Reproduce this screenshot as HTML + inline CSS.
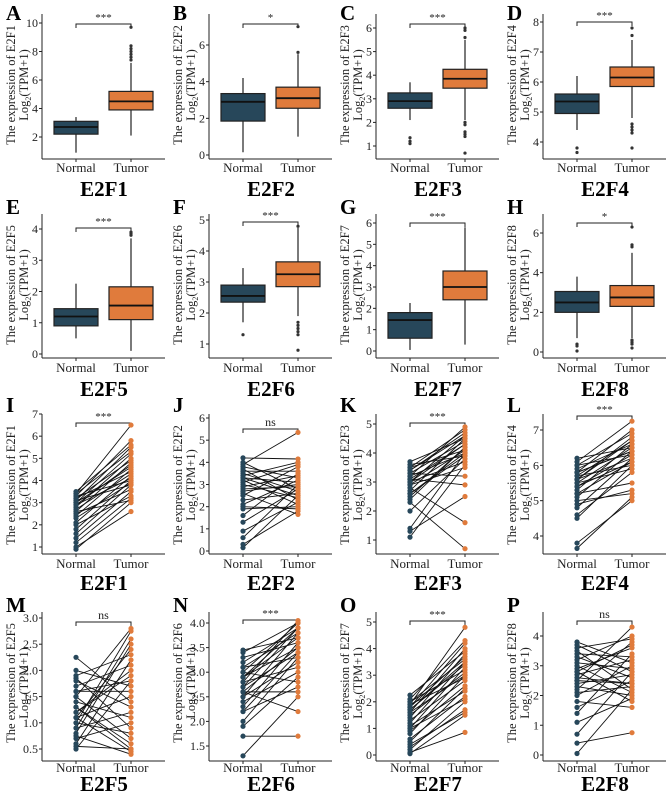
<!DOCTYPE html>
<html><head><meta charset="utf-8">
<style>html,body{margin:0;padding:0;background:#fff}svg{display:block}</style>
</head><body>
<svg id="fig" width="669" height="798" viewBox="0 0 669 798" xmlns="http://www.w3.org/2000/svg" font-family="'Liberation Serif', serif"></svg>
<script>
const panelLetters = ['A','B','C','D','E','F','G','H','I','J','K','L','M','N','O','P'];
const genes = ['E2F1','E2F2','E2F3','E2F4','E2F5','E2F6','E2F7','E2F8'];
const sigLabels = ['***','*','***','***','***','***','***','*','***','ns','***','***','ns','***','***','ns'];
const tickValues = [[2,4,6,8,10],[0,2,4,6],[1,2,3,4,5,6],[4,5,6,7,8],[0,1,2,3,4],[1,2,3,4,5],[0,1,2,3,4,5,6],[0,2,4,6],
 [1,2,3,4,5,6,7],[0,1,2,3,4,5,6],[1,2,3,4,5],[4,5,6,7],[0.5,1.0,1.5,2.0,2.5,3.0],[1.5,2.0,2.5,3.0,3.5,4.0],[0,1,2,3,4,5],[0,1,2,3,4]];
const tickLabels = [null,null,null,null,null,null,null,null,null,null,null,null,['0.5','1.0','1.5','2.0','2.5','3.0'],['1.5','2.0','2.5','3.0','3.5','4.0'],null,null];
// box stats: [low whisker, q1, median, q3, high whisker]
const normalStats = [[0.9,2.2,2.7,3.1,3.4],[0.15,1.85,2.9,3.35,4.2],[2.1,2.6,2.9,3.25,3.7],[4.4,4.95,5.35,5.6,6.2],[0.5,0.9,1.2,1.45,2.25],[1.7,2.35,2.55,2.9,3.45],[0.05,0.6,1.45,1.8,2.25],[0.7,2.0,2.5,3.05,3.8]];
const tumorStats = [[2.1,3.9,4.5,5.2,7.2],[1.0,2.55,3.1,3.7,5.5],[2.1,3.45,3.85,4.25,5.5],[4.8,5.85,6.15,6.5,7.4],[0.1,1.1,1.55,2.15,3.7],[1.9,2.85,3.25,3.65,4.75],[0.3,2.4,3.0,3.75,5.8],[0.7,2.3,2.75,3.35,5.0]];
const normalOutliers = [[],[],[1.35,1.2,1.1],[3.8,3.65],[],[1.3],[],[0.4,0.3,0.05]];
const tumorOutliers = [[7.4,7.6,7.8,8.0,8.2,8.4,9.7],[5.6,7.0],[5.6,5.9,6.0,2.0,1.9,1.6,1.5,1.4,0.7],[7.55,7.8,4.6,4.5,4.4,4.3,3.8],[3.8,3.85,3.9],[4.8,1.7,1.6,1.5,1.4,1.3,0.8],[],[5.3,5.4,6.3,0.6,0.5,0.4,0.2]];
const pairedNormal = [
[0.9,1.0,1.2,1.4,1.6,1.8,2.0,2.1,2.3,2.4,2.5,2.6,2.7,2.8,2.9,3.0,3.0,3.1,3.1,3.2,3.2,3.3,3.3,3.4,3.4,3.5,2.9,2.6],
[0.15,0.3,0.6,0.9,1.3,1.6,1.9,2.1,2.3,2.5,2.6,2.8,2.9,3.0,3.1,3.2,3.3,3.4,3.5,3.6,3.7,3.8,3.9,4.0,4.2,2.0,2.7,3.3],
[1.1,1.3,1.4,2.0,2.3,2.5,2.6,2.7,2.8,2.9,3.0,3.0,3.1,3.1,3.2,3.2,3.3,3.3,3.4,3.5,3.5,3.6,3.7,2.4,2.9,3.0,3.4,2.6],
[3.65,3.8,4.5,4.6,4.8,5.0,5.1,5.2,5.3,5.4,5.5,5.5,5.6,5.6,5.7,5.7,5.8,5.8,5.9,6.0,6.0,6.1,6.2,5.2,5.4,4.9,5.6,5.8],
[0.5,0.55,0.6,0.7,0.75,0.8,0.9,1.0,1.0,1.1,1.1,1.2,1.2,1.3,1.4,1.5,1.5,1.6,1.7,1.8,1.85,1.9,2.0,2.25,0.9,1.3,1.6,1.1],
[1.3,1.7,1.9,2.0,2.2,2.3,2.4,2.5,2.5,2.6,2.6,2.7,2.7,2.8,2.8,2.9,2.9,3.0,3.0,3.1,3.1,3.2,3.3,3.4,3.45,2.6,2.9,2.2],
[0.05,0.1,0.2,0.3,0.5,0.6,0.8,0.9,1.0,1.1,1.2,1.3,1.4,1.5,1.6,1.7,1.8,1.8,1.9,1.9,2.0,2.0,2.1,2.25,1.6,1.0,0.4,1.7],
[0.05,0.4,0.7,1.1,1.4,1.6,1.8,2.0,2.1,2.2,2.3,2.4,2.5,2.6,2.7,2.8,2.9,3.0,3.1,3.2,3.3,3.4,3.5,3.6,3.7,3.8,2.5,2.8]];
const pairedTumor = [
[3.0,2.6,3.2,3.5,3.8,4.0,3.3,4.2,3.9,4.5,3.6,4.8,4.3,5.0,4.1,4.6,5.2,3.8,5.5,4.4,4.9,5.8,4.0,6.5,5.3,5.6,4.7,3.1],
[2.5,1.8,3.0,2.2,2.8,3.5,2.0,3.2,2.6,3.8,1.65,2.9,3.4,2.4,3.9,2.1,3.1,4.0,2.7,3.6,2.3,3.3,5.35,2.8,4.15,1.9,3.0,2.5],
[3.6,2.5,4.0,3.8,0.7,4.2,3.9,4.5,1.6,4.1,4.6,3.7,4.3,2.9,4.9,4.0,4.4,3.2,4.7,4.1,4.8,3.9,4.5,4.2,3.5,4.3,4.6,4.0],
[5.1,5.0,6.0,5.8,6.2,5.2,6.4,6.1,6.6,6.3,5.9,6.5,6.8,6.2,6.7,6.0,6.4,7.0,6.6,6.3,6.9,7.25,6.5,5.5,6.1,5.3,6.7,6.4],
[1.8,0.5,2.2,1.0,0.4,2.5,1.2,0.8,2.75,1.5,0.45,1.9,2.0,0.6,1.1,2.8,0.7,1.6,2.1,1.3,0.9,2.3,1.7,1.4,2.6,0.5,1.8,2.4],
[2.5,1.7,2.9,3.3,2.7,3.6,3.0,3.8,3.2,3.5,2.6,3.9,3.4,4.05,3.1,3.7,3.5,4.0,2.8,3.8,3.3,3.9,3.6,4.0,3.7,2.2,3.9,3.4],
[1.5,0.85,2.0,1.7,2.5,2.2,3.0,2.6,3.3,2.4,3.5,2.8,3.8,3.1,4.0,3.4,3.7,4.2,2.9,4.8,3.6,3.2,4.3,3.9,3.0,2.1,1.6,3.5],
[2.2,0.75,2.8,1.9,3.4,2.5,1.6,3.0,2.3,3.8,2.0,2.7,4.3,2.4,3.2,1.8,3.6,2.1,2.9,4.0,2.6,3.3,2.2,3.9,2.8,3.1,2.4,3.7]];

// layout (not data)
const rowTop=[0,200,400,598];
const rowGeom=[{bot:159,lab:172,gene:196},{bot:158,lab:172,gene:196},{bot:154,lab:168,gene:190},{bot:163,lab:174,gene:193}];
const tickPx=[[23,137],[45,155],[28,146],[22,142],[29,154],[20,144],[23,151],[33,152],[14,147],[18,151],[24,140],[30,136],[20,151],[25,148],[24,157],[38,157]];
const bracketPx=[24,24,24,22,28,22,23,23,23,29,23,16,24,22,23,23];
const colX=[0,167,334,501];
const DARK='#27475a', ORANGE='#e07b3c';
const NS='http://www.w3.org/2000/svg';
const svg=document.getElementById('fig');
function mk(tag,attrs,parent){const e=document.createElementNS(NS,tag);for(const k in attrs)e.setAttribute(k,attrs[k]);(parent||svg).appendChild(e);return e;}

for(let p=0;p<16;p++){
  const row=Math.floor(p/4), col=p%4, ox=colX[col], oy=rowTop[row], g=rowGeom[row];
  const gi=p%8;
  const grp=mk('g',{});
  
  
  const tv=tickValues[p], t0=tv[0], t1=tv[tv.length-1];
  const py0=oy+tickPx[p][1], py1=oy+tickPx[p][0];
  const y=v=>py0+(v-t0)*(py1-py0)/(t1-t0);
  const ax=ox+42, xN=ox+76, xT=ox+131, axEnd=ox+165, bot=oy+g.bot, top=oy+14;
  const L=mk('text',{x:ox+6,y:oy+(row===0?20:row===2?12:14),'font-size':21,'font-weight':'bold'},grp);L.textContent=panelLetters[p];
  
  
  const ya=mk('line',{x1:ax,y1:top,x2:ax,y2:bot,stroke:'#222','stroke-width':1},grp);
  
  
  const xa=mk('line',{x1:ax,y1:bot,x2:axEnd,y2:bot,stroke:'#222','stroke-width':1},grp);
  
  
  tv.forEach((v,i)=>{
    mk('line',{x1:ax-3,y1:y(v),x2:ax,y2:y(v),stroke:'#222','stroke-width':1},grp);
    const t=mk('text',{x:ax-4,y:y(v)+4,'font-size':12,'text-anchor':'end',fill:'#222'},grp);
    t.textContent=tickLabels[p]?tickLabels[p][i]:String(v);
    
    
  });
  [[xN,'Normal'],[xT,'Tumor']].forEach(([x,s])=>{
    mk('line',{x1:x,y1:bot,x2:x,y2:bot+3,stroke:'#222'},grp);
    const t=mk('text',{x:x,y:oy+g.lab,'font-size':13,'text-anchor':'middle',fill:'#222'},grp);t.textContent=s;
    
    
  });
  const gt=mk('text',{x:ox+104,y:oy+g.gene,'font-size':21,'font-weight':'bold','text-anchor':'middle'},grp);gt.textContent=genes[gi];
  
  
  const cy=oy+85;
  const yt=mk('text',{x:0,y:0,'font-size':12.5,'text-anchor':'middle',transform:`translate(${ox+15},${cy}) rotate(-90)`,fill:'#222'},grp);
  yt.textContent='The expression of '+genes[gi];
  
  
  const yt2=mk('text',{x:0,y:0,'font-size':12.5,'text-anchor':'middle',transform:`translate(${ox+28},${cy}) rotate(-90)`,fill:'#222'},grp);
  yt2.innerHTML='Log<tspan font-size="8" dy="3">2</tspan><tspan dy="-3">(TPM+1)</tspan>';
  
  
  const by=oy+bracketPx[p];
  const br=mk('path',{d:`M${xN},${by+4}V${by}H${xT}V${by+4}`,fill:'none',stroke:'#222','stroke-width':1},grp);
  
  
  const st=mk('text',{x:(xN+xT)/2,y:by-3,'font-size':sigLabels[p]==='ns'?12:11,'text-anchor':'middle',fill:'#222'},grp);st.textContent=sigLabels[p];
  
  

  if(row<2){
    [[xN,normalStats[gi],normalOutliers[gi],DARK,'normal'],[xT,tumorStats[gi],tumorOutliers[gi],ORANGE,'tumor']].forEach(([cx,s,out,col,nm])=>{
      const w=44;
      mk('line',{x1:cx,y1:y(s[0]),x2:cx,y2:y(s[4]),stroke:'#222','stroke-width':1.2},grp);
      const b=mk('rect',{x:cx-w/2,y:y(s[3]),width:w,height:y(s[1])-y(s[3]),fill:col,stroke:'#222','stroke-width':1.2},grp);
      
      
      const m=mk('line',{x1:cx-w/2,y1:y(s[2]),x2:cx+w/2,y2:y(s[2]),stroke:'#111','stroke-width':1.8},grp);
      
      
      out.forEach(v=>{
        const c=mk('circle',{cx:cx,cy:y(v),r:1.6,fill:'#333'},grp);
        
        
      });
    });
  } else {
    const nv=pairedNormal[gi], tvv=pairedTumor[gi];
    nv.forEach((v,i)=>{
      const l=mk('line',{x1:xN,y1:y(v),x2:xT,y2:y(tvv[i]),stroke:'#111','stroke-width':0.9},grp);
      
      
    });
    nv.forEach(v=>{
      const c=mk('circle',{cx:xN,cy:y(v),r:2.6,fill:DARK},grp);
      
      
    });
    tvv.forEach(v=>{
      const c=mk('circle',{cx:xT,cy:y(v),r:2.6,fill:ORANGE},grp);
      
      
    });
  }
}
</script>
</body></html>
